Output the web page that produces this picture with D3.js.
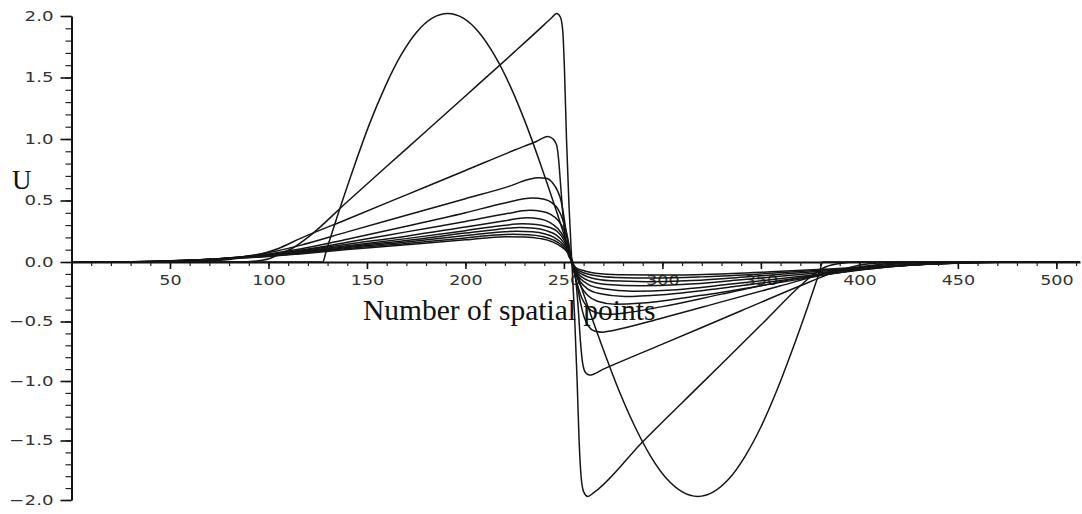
<!DOCTYPE html>
<html>
<head>
<meta charset="utf-8">
<script src="https://cdn.jsdelivr.net/npm/d3@7"></script>
<style>
  body { margin: 0; background: #fff; }
  svg { display: block; }
</style>
</head>
<body>
<svg id="chart" width="1082" height="514"></svg>
<script>
// Velocity profiles U(x) over the spatial grid, one array per output time.
// Each entry is [grid point, U].
const initial = [[0,0],[127.5,0],[129.5,0.1],[135.4,0.394],[143.4,0.773],[151.3,1.123],[159.3,1.428],[167.2,1.679],
  [175.1,1.866],[183.1,1.982],[191,2.02],[198.9,1.982],[206.9,1.866],[214.8,1.679],[222.8,1.428],[230.7,1.123],
  [238.6,0.773],[246.6,0.394],[254.5,0],[262.4,-0.384],[270.4,-0.754],[278.3,-1.095],[286.3,-1.393],[294.2,-1.637],
  [302.1,-1.82],[310.1,-1.932],[318,-1.97],[325.9,-1.932],[333.9,-1.82],[341.8,-1.637],[349.8,-1.393],[357.7,-1.095],
  [365.6,-0.754],[373.6,-0.384],[379.5,-0.097],[381.5,0],[512,0]];

const t1 = [[0,0],[85,0],[95,0.01],[101,0.03],[106,0.07],[112,0.11],[120,0.2],[140,0.49],[170,0.92],[200,1.35],[225,1.71],
  [240,1.93],[244,1.99],[246.3,2.02],[248.2,1.99],[249.4,1.88],[250.3,1.55],[251.3,1.0],[252.6,0.45],[254,0],
  [255.4,-0.45],[256.7,-1.0],[257.7,-1.5],[258.7,-1.8],[260,-1.93],[262.1,-1.97],[265,-1.94],[290,-1.51],[320,-1.02],
  [350,-0.53],[370,-0.2],[377,-0.1],[383,-0.04],[390,-0.012],[400,0],[512,0]];

const t2 = [[0,0],[60,0.003],[74,0.012],[85,0.03],[95,0.06],[105,0.11],[116,0.19],[140,0.348],[170,0.546],[200,0.744],
  [225,0.91],[236,0.98],[241.8,1.02],[244.5,1.0],[246.3,0.95],[247.2,0.85],[248.2,0.65],[249.3,0.42],[250.5,0.22],
  [252,0.07],[254,0],[256,-0.15],[257.3,-0.4],[258.3,-0.65],[259.5,-0.85],[261,-0.93],[263.1,-0.95],[270,-0.9],
  [300,-0.69],[340,-0.41],[370,-0.2],[385,-0.1],[395,-0.045],[405,-0.015],[420,0],[512,0]];

const t3 = [[0,0],[50,0.003],[65,0.012],[80,0.03],[92,0.055],[104,0.09],[116,0.135],[140,0.245],[170,0.38],[200,0.515],
  [222,0.615],[232,0.67],[237,0.685],[241,0.68],[244.4,0.64],[246.7,0.58],[248.5,0.5],[249.7,0.4],[250.8,0.28],[252.2,0.14],
  [254,0],[255.5,-0.1],[257,-0.22],[258.5,-0.35],[260.2,-0.46],[262.5,-0.54],[265.5,-0.58],[269.7,-0.59],[275,-0.575],
  [300,-0.47],[330,-0.335],[360,-0.2],[380,-0.11],[395,-0.055],[410,-0.02],[425,-0.005],[440,0],[512,0]];

const t4 = [[0,0],[45,0.003],[60,0.011],[75,0.025],[88,0.045],[100,0.065],[116,0.105],[140,0.185],[170,0.29],[200,0.4],
  [220,0.48],[234,0.52],[240,0.51],[244,0.48],[247,0.43],[249.5,0.34],[251.3,0.24],[252.8,0.12],[254,0],
  [255.3,-0.1],[257,-0.2],[259,-0.3],[262,-0.38],[266,-0.425],[272,-0.44],[280,-0.43],[300,-0.375],[330,-0.27],
  [360,-0.165],[385,-0.085],[405,-0.035],[425,-0.01],[445,0],[512,0]];

const t5 = [[0,0],[42,0.003],[57,0.01],[72,0.022],[86,0.04],[100,0.06],[116,0.095],[140,0.16],[170,0.245],[200,0.33],
  [220,0.39],[232.6,0.42],[239,0.41],[243.5,0.385],[247,0.34],[249.8,0.27],[252,0.17],[254,0],
  [256,-0.1],[258.5,-0.2],[262,-0.28],[267,-0.33],[276,-0.355],[290,-0.345],[320,-0.28],[350,-0.2],[380,-0.115],
  [405,-0.05],[430,-0.015],[455,0],[512,0]];

const t6 = [[0,0],[40,0.003],[55,0.01],[70,0.02],[85,0.037],[100,0.057],[116,0.09],[140,0.145],[170,0.21],[200,0.285],
  [220,0.335],[231,0.36],[238,0.35],[243,0.32],[247,0.27],[250,0.2],[252.3,0.11],[254,0],
  [256,-0.1],[258.5,-0.17],[262,-0.225],[268,-0.265],[281,-0.29],[300,-0.275],[330,-0.22],[360,-0.155],[390,-0.09],
  [415,-0.04],[440,-0.012],[465,0],[512,0]];

const t7 = [[0,0],[38,0.003],[53,0.009],[68,0.019],[84,0.035],[100,0.055],[116,0.085],[140,0.132],[170,0.19],[200,0.255],
  [218,0.295],[229,0.31],[236,0.305],[242,0.285],[246.5,0.25],[250,0.18],[252.3,0.1],[254,0],
  [256,-0.085],[258.7,-0.145],[262.5,-0.19],[270,-0.225],[285,-0.245],[305,-0.235],[335,-0.185],[365,-0.13],
  [395,-0.075],[420,-0.033],[445,-0.01],[470,0],[512,0]];

const t8 = [[0,0],[36,0.003],[51,0.009],[66,0.018],[82,0.033],[100,0.052],[116,0.08],[140,0.125],[170,0.175],[200,0.235],
  [216,0.265],[227.5,0.28],[235,0.275],[241,0.255],[246,0.22],[249.8,0.16],[252.3,0.09],[254,0],
  [256,-0.075],[259,-0.125],[263,-0.16],[272,-0.19],[289,-0.2],[310,-0.19],[340,-0.15],[370,-0.105],[400,-0.06],
  [425,-0.027],[450,-0.008],[475,0],[512,0]];

const t9 = [[0,0],[34,0.003],[49,0.008],[64,0.017],[80,0.031],[100,0.05],[116,0.075],[140,0.118],[170,0.162],[200,0.215],
  [214,0.238],[226,0.25],[234,0.245],[240,0.23],[245,0.2],[249.5,0.145],[252.3,0.08],[254,0],
  [256,-0.065],[259.5,-0.105],[264,-0.135],[274,-0.158],[292,-0.165],[315,-0.155],[345,-0.122],[375,-0.085],
  [405,-0.048],[430,-0.022],[455,-0.006],[480,0],[512,0]];

const t10 = [[0,0],[32,0.003],[47,0.008],[62,0.016],[78,0.029],[100,0.048],[116,0.071],[140,0.11],[170,0.15],[200,0.195],
  [212,0.215],[224,0.225],[232,0.222],[239,0.208],[244.5,0.18],[249.3,0.13],[252.3,0.07],[254,0],
  [256,-0.055],[260,-0.09],[265,-0.112],[276,-0.13],[296,-0.135],[320,-0.125],[350,-0.1],[380,-0.07],[410,-0.04],
  [435,-0.018],[460,-0.005],[485,0],[512,0]];

const t11 = [[0,0],[30,0.003],[45,0.008],[60,0.015],[76,0.027],[100,0.045],[116,0.066],[140,0.102],[170,0.14],[200,0.18],
  [210,0.195],[221,0.205],[230,0.203],[238,0.19],[244,0.165],[249,0.12],[252.3,0.065],[254,0],
  [256,-0.048],[260.5,-0.075],[266,-0.094],[278,-0.107],[300,-0.11],[325,-0.102],[355,-0.082],[385,-0.058],
  [415,-0.033],[440,-0.015],[465,-0.004],[490,0],[512,0]];

const profiles = [initial, t1, t2, t3, t4, t5, t6, t7, t8, t9, t10, t11];

// Axis ticks
const xMajorTicks = [50, 100, 150, 200, 250, 300, 350, 400, 450, 500];
const xMinorTicks = d3.range(10, 520, 10);
const yMajorTicks = [-2, -1.5, -1, -0.5, 0, 0.5, 1, 1.5, 2];
const yMinorTicks = d3.range(-20, 21, 1).map(v => v / 10);

const xTitle = "Number of spatial points";
const yTitle = "U";

const svg = d3.select("#chart");

const x = d3.scaleLinear().domain([0, 512]).range([71.5, 1080]);
const y = d3.scaleLinear().domain([-2, 0, 2]).range([500, 262, 16]);

const tickFont = "'DejaVu Sans', sans-serif";
const stretch = 1.3;

// x axis: minor ticks, then major ticks with labels
svg.append("g")
  .attr("transform", `translate(0,${y(0)})`)
  .call(d3.axisBottom(x).tickValues(xMinorTicks).tickSize(4).tickSizeOuter(0).tickFormat(""))
  .call(g => g.select(".domain").attr("stroke", "#111").attr("stroke-width", 1.8))
  .call(g => g.selectAll(".tick line").attr("stroke", "#222").attr("stroke-width", 1.2));

svg.append("g")
  .attr("transform", `translate(0,${y(0)})`)
  .call(d3.axisBottom(x).tickValues(xMajorTicks).tickSize(7).tickPadding(6).tickSizeOuter(0).tickFormat(d3.format("d")))
  .call(g => g.select(".domain").remove())
  .call(g => g.selectAll(".tick line").attr("stroke", "#111").attr("stroke-width", 1.6))
  .call(g => g.selectAll(".tick text")
    .attr("font-family", tickFont).attr("font-size", 13.5).attr("fill", "#333")
    .attr("transform", `scale(${stretch},1)`));

// y axis
svg.append("g")
  .attr("transform", `translate(${x(0)},0)`)
  .call(d3.axisLeft(y).tickValues(yMinorTicks).tickSize(6).tickSizeOuter(0).tickFormat(""))
  .call(g => g.select(".domain").attr("stroke", "#111").attr("stroke-width", 2))
  .call(g => g.selectAll(".tick line").attr("stroke", "#222").attr("stroke-width", 1.2));

svg.append("g")
  .attr("transform", `translate(${x(0)},0)`)
  .call(d3.axisLeft(y).tickValues(yMajorTicks).tickSize(11).tickSizeOuter(0).tickFormat(d3.format(".1f")))
  .call(g => g.select(".domain").remove())
  .call(g => g.selectAll(".tick line").attr("stroke", "#111").attr("stroke-width", 1.6))
  .call(g => g.selectAll(".tick text")
    .attr("font-family", tickFont).attr("font-size", 14).attr("fill", "#333")
    .attr("x", -18 / stretch)
    .attr("transform", `scale(${stretch},1)`));

// profiles
const line = d3.line()
  .x(d => x(d[0]))
  .y(d => y(d[1]))
  .curve(d3.curveMonotoneX);

svg.append("g")
  .selectAll("path")
  .data(profiles)
  .join("path")
  .attr("d", line)
  .attr("fill", "none")
  .attr("stroke", "#151515")
  .attr("stroke-width", 1.5)
  .attr("stroke-linejoin", "round");

// titles
svg.append("text")
  .attr("x", 12).attr("y", 189)
  .attr("font-family", "'Liberation Serif', 'Times New Roman', serif")
  .attr("font-size", 27).attr("fill", "#111")
  .text(yTitle);

svg.append("text")
  .attr("x", 363).attr("y", 320)
  .attr("font-family", "'Liberation Serif', 'Times New Roman', serif")
  .attr("font-size", 29.5).attr("fill", "#111")
  .text(xTitle);
</script>
</body>
</html>
